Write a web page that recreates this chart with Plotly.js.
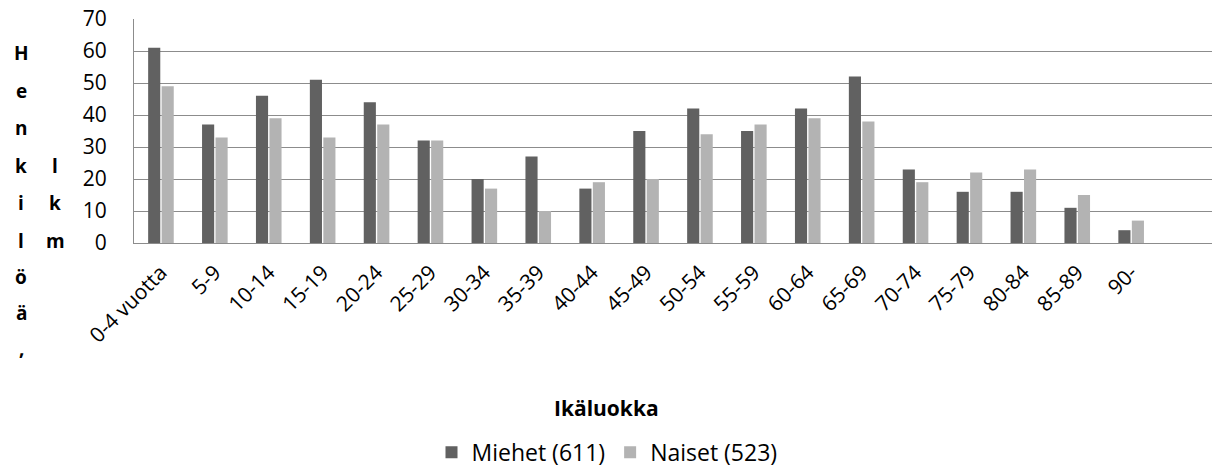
<!DOCTYPE html>
<html>
<head>
<meta charset="utf-8">
<script src="https://cdn.plot.ly/plotly-3.0.1.min.js"></script>
<style>html,body{margin:0;padding:0;background:#fff;}#chart{width:1214px;height:474px;}</style>
</head>
<body>
<div id="chart"></div>
<script>
const categories = ["0-4 vuotta","5-9","10-14","15-19","20-24","25-29","30-34","35-39","40-44","45-49","50-54","55-59","60-64","65-69","70-74","75-79","80-84","85-89","90-"];
const miehet = [61,37,46,51,44,32,20,27,17,35,42,35,42,52,23,16,16,11,4];
const naiset = [49,33,39,33,37,32,17,10,19,20,34,37,39,38,19,22,23,15,7];
const seriesNames = ["Miehet (611)","Naiset (523)"];
const yTitleLeft = ["H","e","n","k","i","l","ö","ä",","];
const yTitleRight = ["l","k","m"];
const xTitle = "Ikäluokka";

const FONT = "Open Sans, Noto Sans, sans-serif";

const traces = [
  {type:"bar", name:seriesNames[0], x:categories, y:miehet, marker:{color:"#616161"}, hoverinfo:"x+y"},
  {type:"bar", name:seriesNames[1], x:categories, y:naiset, marker:{color:"#b3b3b3"}, hoverinfo:"x+y"}
];

// plot area: rows 19..243, columns 134..1212
const rowToPaper = py => (243 - py) / 224;
const colToPaper = px => (px - 134) / 1078;
const leftRows = [53,90.5,128,165.5,203,240.5,277,313,348];
const rightRows = [165.5,203,240.5];
const letterFont = {family:FONT, size:19, color:"#000", weight:700};
const annotations = [];
yTitleLeft.forEach((t,i)=>annotations.push({text:t, xref:"paper", yref:"paper", x:colToPaper(21), y:rowToPaper(leftRows[i]), showarrow:false, xanchor:"center", yanchor:"middle", font:letterFont}));
yTitleRight.forEach((t,i)=>annotations.push({text:t, xref:"paper", yref:"paper", x:colToPaper(55), y:rowToPaper(rightRows[i]), showarrow:false, xanchor:"center", yanchor:"middle", font:letterFont}));
annotations.push({text:xTitle, xref:"paper", yref:"paper", x:colToPaper(606), y:rowToPaper(408), showarrow:false, xanchor:"center", yanchor:"middle", font:{family:FONT, size:21, color:"#000", weight:700}});

const layout = {
  width:1214, height:474,
  margin:{l:134, r:2, t:19, b:231},
  paper_bgcolor:"#fff", plot_bgcolor:"#fff",
  barmode:"group", bargap:0.5, bargroupgap:0.1,
  showlegend:true,
  legend:{orientation:"h", xref:"container", yref:"container", x:0.5, y:0.046, xanchor:"center", yanchor:"middle", font:{family:FONT, size:23, color:"#000"}, itemwidth:30, traceorder:"normal"},
  xaxis:{type:"category", range:[-0.5,19.5], tickangle:-45, tickfont:{family:FONT, size:21, color:"#000"}, showline:true, linecolor:"#8c8c8c", linewidth:1, ticks:"", showgrid:false, ticklabelstandoff:8, fixedrange:true},
  yaxis:{range:[0,70], dtick:10, tickfont:{family:FONT, size:21, color:"#000"}, showgrid:true, gridcolor:"#8c8c8c", gridwidth:1, showline:true, linecolor:"#8c8c8c", linewidth:1, zeroline:false, ticks:"", ticklabelstandoff:22, fixedrange:true},
  annotations:annotations
};

Plotly.newPlot("chart", traces, layout, {displayModeBar:false, staticPlot:true});
</script>
</body>
</html>
